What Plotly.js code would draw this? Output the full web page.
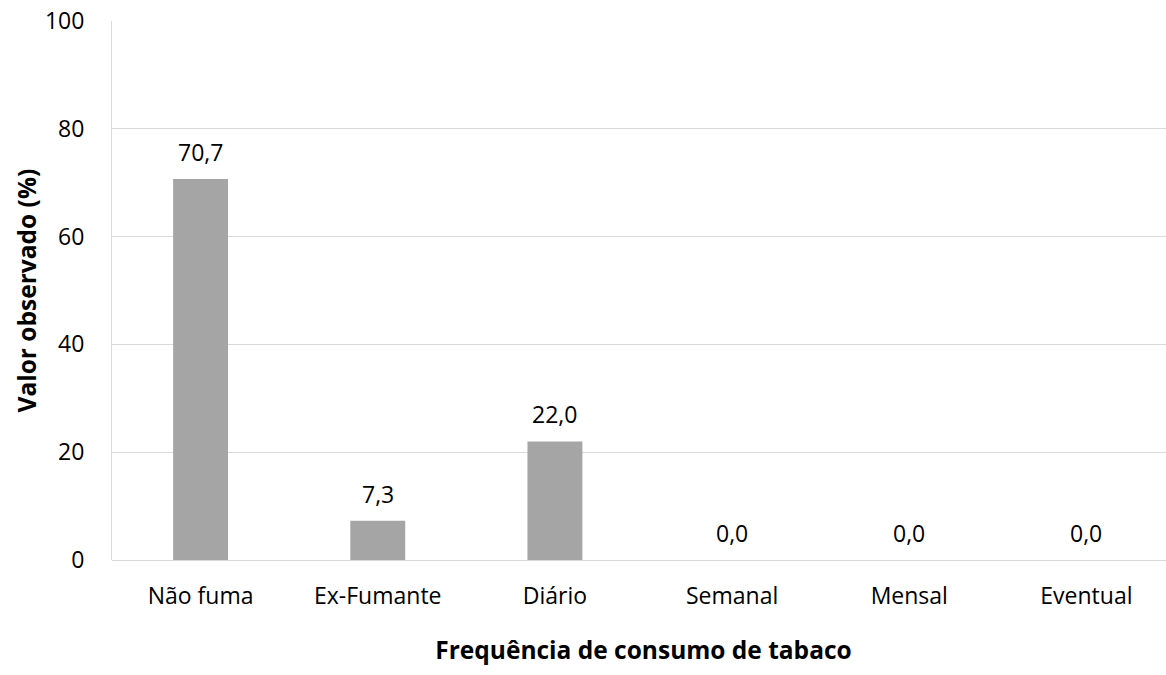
<!DOCTYPE html>
<html><head><meta charset="utf-8">
<script src="https://cdn.plot.ly/plotly-3.0.1.min.js"></script>
<style>html,body{margin:0;padding:0;overflow:hidden;background:#fff}</style>
</head><body><div id="chart"></div>
<script>
const categories = ["Não fuma", "Ex-Fumante", "Diário", "Semanal", "Mensal", "Eventual"];
const values = [70.7, 7.3, 22.0, 0.0, 0.0, 0.0];
const yTicks = [0, 20, 40, 60, 80, 100];
const labels = values.map(v => v.toFixed(1).replace('.', ','));
const yTitle = 'Valor observado (%)';
const xTitle = 'Frequência de consumo de tabaco';
const FONT = "Open Sans, Noto Sans, sans-serif";
const FS = 23;
const TFS = 24.5;

const trace = {
  type: 'bar', x: categories, y: values,
  marker: {color: '#a5a5a5'},
  hoverinfo: 'none'
};
const annotations = categories.map((c, i) => ({
  x: c, y: values[i], text: labels[i], showarrow: false,
  xref: 'x', yref: 'y', yanchor: 'bottom', yshift: 9,
  font: {family: FONT, size: FS, color: '#000'}
}));
annotations.push({
  xref: 'paper', yref: 'paper', x: 0, y: 0.5, xshift: -86,
  xanchor: 'center', yanchor: 'middle', textangle: -90, showarrow: false,
  text: '<b>' + yTitle + '</b>',
  font: {family: FONT, size: TFS, color: '#000'}
});
const layout = {
  width: 1175, height: 675,
  margin: {l: 112, r: 0, t: 21, b: 115},
  paper_bgcolor: '#fff', plot_bgcolor: '#fff',
  bargap: 0.69,
  showlegend: false,
  xaxis: {
    type: 'category',
    showline: false, showgrid: false, zeroline: false,
    ticks: 'outside', ticklen: 15, tickcolor: 'rgba(0,0,0,0)',
    tickfont: {family: FONT, size: FS, color: '#000'},
    title: {text: '<b>' + xTitle + '</b>', font: {family: FONT, size: TFS, color: '#000'}, standoff: 32}
  },
  yaxis: {
    range: [0, 100], tickvals: yTicks, ticktext: yTicks.map(String),
    showline: true, linecolor: '#d9d9d9', linewidth: 1,
    showgrid: true, gridcolor: '#d9d9d9', gridwidth: 1,
    zeroline: true, zerolinecolor: '#d9d9d9', zerolinewidth: 1,
    ticks: 'outside', ticklen: 22, tickcolor: 'rgba(0,0,0,0)',
    tickfont: {family: FONT, size: FS, color: '#000'}
  },
  annotations: annotations
};
Plotly.newPlot('chart', [trace], layout, {displayModeBar: false, staticPlot: true});
</script></body></html>
